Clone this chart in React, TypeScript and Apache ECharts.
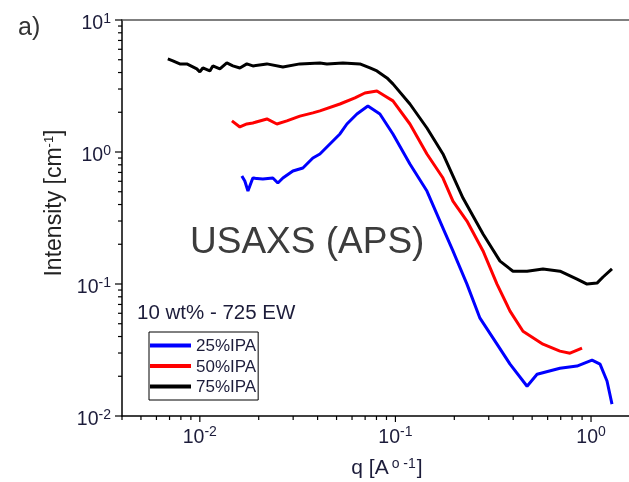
import React, { useEffect, useRef } from 'react';
import * as echarts from 'echarts';

const FONT = '"Liberation Sans", Arial, sans-serif';
const LABEL_COLOR = '#1c1c3a';

// 25%IPA (blue)
const q25 = [0.0164, 0.01698, 0.01762, 0.01866, 0.021, 0.02362, 0.02506, 0.02658, 0.0299, 0.03364, 0.03785, 0.04111, 0.04625, 0.05203, 0.05649, 0.06353, 0.07231, 0.0833, 0.0971, 0.1186, 0.1449, 0.175, 0.1968, 0.2321, 0.2705, 0.3306, 0.3854, 0.471, 0.5298, 0.6936, 0.8477, 1.012, 1.112, 1.207, 1.28];
const i25 = [0.658, 0.603, 0.506, 0.635, 0.624, 0.635, 0.582, 0.635, 0.718, 0.756, 0.901, 0.966, 1.15, 1.37, 1.63, 1.94, 2.23, 1.94, 1.37, 0.811, 0.506, 0.265, 0.178, 0.0998, 0.0551, 0.035, 0.0247, 0.0168, 0.0207, 0.023, 0.0239, 0.0265, 0.0247, 0.0184, 0.0123];

// 50%IPA (red)
const q50 = [0.01459, 0.01602, 0.01739, 0.01866, 0.02202, 0.02477, 0.02786, 0.03247, 0.03785, 0.04111, 0.05203, 0.0621, 0.0698, 0.0804, 0.0884, 0.0971, 0.1186, 0.1449, 0.175, 0.1968, 0.2321, 0.2805, 0.3306, 0.3854, 0.4488, 0.568, 0.6936, 0.7808, 0.8995];
const i50 = [1.72, 1.547, 1.63, 1.66, 1.78, 1.63, 1.72, 1.87, 1.98, 2.05, 2.31, 2.57, 2.8, 2.9, 2.66, 2.44, 1.63, 0.966, 0.635, 0.425, 0.3, 0.178, 0.0998, 0.0623, 0.0439, 0.035, 0.031, 0.0299, 0.0327];

// 75%IPA (black)
const q75 = [0.00686, 0.00728, 0.0079, 0.00858, 0.00965, 0.01, 0.01036, 0.01125, 0.01165, 0.01266, 0.01374, 0.01475, 0.01602, 0.01739, 0.01866, 0.02202, 0.02658, 0.03247, 0.04111, 0.04464, 0.0539, 0.0658, 0.0741, 0.0804, 0.0905, 0.0971, 0.1186, 0.1449, 0.175, 0.2215, 0.2805, 0.3426, 0.399, 0.471, 0.568, 0.694, 0.848, 0.954, 1.073, 1.152, 1.28];
const i75 = [5.07, 4.9, 4.65, 4.65, 4.26, 4.04, 4.33, 4.11, 4.49, 4.26, 4.73, 4.49, 4.33, 4.65, 4.49, 4.65, 4.41, 4.65, 4.73, 4.65, 4.73, 4.65, 4.33, 4.11, 3.64, 3.28, 2.31, 1.52, 0.966, 0.448, 0.239, 0.149, 0.125, 0.125, 0.13, 0.125, 0.109, 0.0998, 0.1016, 0.113, 0.13];

const seriesNames = ['25%IPA', '50%IPA', '75%IPA'];
const seriesColors = ['#0000ff', '#ff0000', '#000000'];
const seriesQ = [q25, q50, q75];
const seriesI = [i25, i50, i75];

const xMajorTicks = [0.01, 0.1, 1];
const xMinorTicks = [0.004, 0.005, 0.006, 0.007, 0.008, 0.009, 0.02, 0.03, 0.04, 0.05, 0.06, 0.07, 0.08, 0.09, 0.2, 0.3, 0.4, 0.5, 0.6, 0.7, 0.8, 0.9, 2];
const yMajorTicks = [0.01, 0.1, 1, 10];
const yMinorTicks = [0.02, 0.03, 0.04, 0.05, 0.06, 0.07, 0.08, 0.09, 0.2, 0.3, 0.4, 0.5, 0.6, 0.7, 0.8, 0.9, 2, 3, 4, 5, 6, 7, 8, 9];

const X_MIN = 0.004;
const X_MAX = 2.05;
const Y_MIN = 0.01;
const Y_MAX = 10;

const powFormatter = (v: number) => {
  const e = Math.log10(v);
  const r = Math.round(e);
  if (Math.abs(e - r) > 1e-6) return '';
  return `{b|10}{s|${r}}`;
};

const labelRich = {
  b: { fontSize: 19.5, fontFamily: FONT, color: LABEL_COLOR, lineHeight: 19, padding: [4, 0, 0, 0] },
  s: { fontSize: 14, fontFamily: FONT, color: LABEL_COLOR, lineHeight: 14, verticalAlign: 'top' },
};

export default function App() {
  const ref = useRef<HTMLDivElement>(null);
  useEffect(() => {
    if (!ref.current) return;
    const chart = echarts.init(ref.current, undefined, { renderer: 'svg' });

    const lineSeries = seriesNames.map((name, k) => ({
      name,
      type: 'line',
      xAxisIndex: 0,
      yAxisIndex: 0,
      data: seriesQ[k].map((q, j) => [q, seriesI[k][j]]),
      showSymbol: false,
      symbol: 'none',
      lineStyle: { color: seriesColors[k], width: 3 },
      itemStyle: { color: seriesColors[k] },
      z: 3,
    }));

    const xTickData = [
      ...xMajorTicks.map((v) => [v, Y_MIN, 6]),
      ...xMinorTicks.map((v) => [v, Y_MIN, 4]),
    ];
    const yTickData = [
      ...yMajorTicks.map((v) => [X_MIN, v, 7]),
      ...yMinorTicks.map((v) => [X_MIN, v, 4]),
    ];

    chart.setOption({
      animation: false,
      grid: { left: 122, top: 20, width: 530, bottom: 66, containLabel: false, outerBoundsMode: 'none' },
      legend: {
        data: seriesNames,
        orient: 'vertical',
        left: 149,
        top: 332,
        icon: 'rect',
        itemWidth: 41,
        itemHeight: 4,
        itemGap: 3.5,
        padding: [5, 2, 5, 1],
        borderColor: '#000',
        borderWidth: 1,
        textStyle: { fontSize: 17, fontFamily: FONT, color: LABEL_COLOR, lineHeight: 16 },
      },
      xAxis: [
        {
          type: 'log',
          logBase: 10,
          min: X_MIN,
          max: X_MAX,
          position: 'bottom',
          axisLine: { show: true, lineStyle: { color: '#000', width: 1.5 } },
          axisTick: { show: false },
          splitLine: { show: false },
          axisLabel: { formatter: powFormatter, rich: labelRich, margin: 8 },
          name: 'q [A{s|o -1}]',
          nameLocation: 'middle',
          nameGap: 40,
          nameTextStyle: {
            fontSize: 21,
            fontFamily: FONT,
            color: LABEL_COLOR,
            rich: {
              s: { fontSize: 14, fontFamily: FONT, color: LABEL_COLOR, verticalAlign: 'top', lineHeight: 14, padding: [0, 1, 0, 3] },
            },
          },
        },
        {
          type: 'log',
          logBase: 10,
          min: X_MIN,
          max: X_MAX,
          position: 'top',
          axisLine: { show: true, lineStyle: { color: '#555', width: 1.5 } },
          axisTick: { show: false },
          axisLabel: { show: false },
          splitLine: { show: false },
        },
      ],
      yAxis: {
        type: 'log',
        logBase: 10,
        min: Y_MIN,
        max: Y_MAX,
        axisLine: { show: true, lineStyle: { color: '#000', width: 1.5 } },
        axisTick: { show: false },
        splitLine: { show: false },
        axisLabel: { formatter: powFormatter, rich: labelRich, margin: 11 },
      },
      graphic: [
        { type: 'text', left: 18, top: 13, style: { text: 'a)', fontSize: 25, fontFamily: FONT, fill: '#333' } },
        {
          type: 'text',
          x: 53,
          y: 203,
          rotation: Math.PI / 2,
          style: {
            text: 'Intensity [cm{s|-1}]',
            fontSize: 23,
            fontFamily: FONT,
            fill: '#222',
            align: 'center',
            verticalAlign: 'middle',
            rich: {
              s: { fontSize: 13, fontFamily: FONT, fill: '#222', verticalAlign: 'top', lineHeight: 13 },
            },
          },
        },
        { type: 'text', x: 190, y: 240, style: { text: 'USAXS (APS)', fontSize: 37, fontFamily: FONT, fill: '#3c3c3c', verticalAlign: 'middle' } },
        { type: 'text', x: 137, y: 311, style: { text: '10 wt% - 725 EW', fontSize: 20.5, fontFamily: FONT, fill: LABEL_COLOR, verticalAlign: 'middle' } },
      ],
      series: [
        ...lineSeries,
        {
          type: 'custom',
          name: 'xticks',
          xAxisIndex: 0,
          yAxisIndex: 0,
          clip: false,
          silent: true,
          data: xTickData,
          renderItem: (_p: any, api: any) => {
            const pt = api.coord([api.value(0), api.value(1)]);
            const len = api.value(2);
            return { type: 'line', shape: { x1: pt[0], y1: pt[1], x2: pt[0], y2: pt[1] + len }, style: { stroke: '#000', lineWidth: 1.2 } };
          },
        },
        {
          type: 'custom',
          name: 'yticks',
          xAxisIndex: 0,
          yAxisIndex: 0,
          clip: false,
          silent: true,
          data: yTickData,
          renderItem: (_p: any, api: any) => {
            const pt = api.coord([api.value(0), api.value(1)]);
            const len = api.value(2);
            return { type: 'line', shape: { x1: pt[0], y1: pt[1], x2: pt[0] - len, y2: pt[1] }, style: { stroke: '#000', lineWidth: 1.2 } };
          },
        },
      ],
    });
    return () => chart.dispose();
  }, []);
  return <div ref={ref} style={{ position: 'fixed', left: 0, top: 0, width: 629, height: 482 }} />;
}
